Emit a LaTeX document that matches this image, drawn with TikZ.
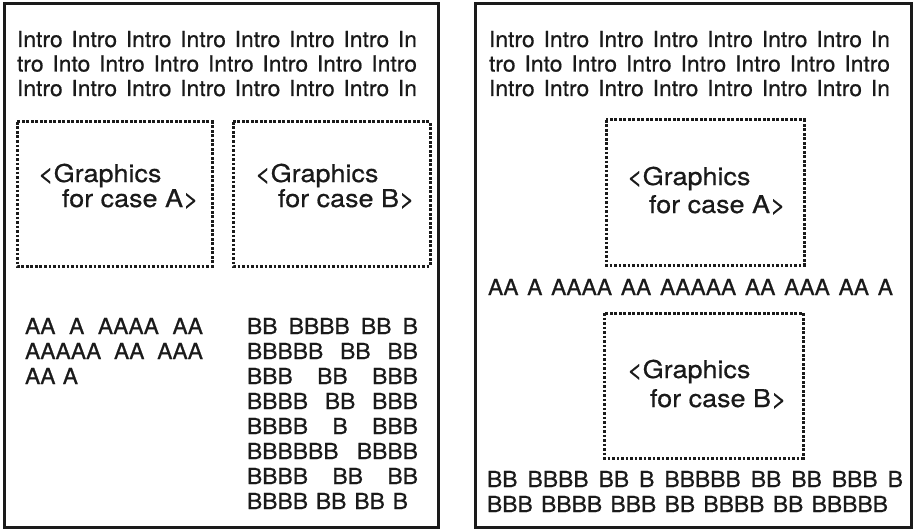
\documentclass[tikz,border=0pt]{standalone}
\usepackage{fontspec}
\setmainfont[FakeStretch=1.04,FakeBold=0.6]{TeX Gyre Heros}
\newfontfamily\glabfont[FakeStretch=1.1,FakeBold=0.6]{TeX Gyre Heros}
\definecolor{ink}{HTML}{1A1A1A}
\newcommand\jline[2]{\makebox[#1pt][s]{#2}}
\begin{document}
\begin{tikzpicture}[x=1pt,y=-1pt,
  frame/.style={draw=ink, line width=3pt},
  gbox/.style={draw=ink, line width=3pt, dash pattern=on 2.6pt off 1.9pt},
  txt/.style={anchor=base west, inner sep=0pt, outer sep=0pt, text=ink, font=\fontsize{22}{25}\selectfont},
  glab/.style={anchor=base west, inner sep=0pt, outer sep=0pt, text=ink, font=\glabfont\fontsize{24.5}{28}\selectfont}]
\useasboundingbox[fill=white] (0,0) rectangle (915,532);
% frames
\draw[frame] (4,4) rectangle (438,527);
\draw[frame] (475,4) rectangle (911,527);
% ---------- left page ----------
\node[txt] (li1) at (17,47) {\jline{400}{Intro Intro Intro Intro Intro Intro Intro In}};
\node[txt] (li2) at (17,71.5) {\jline{400}{tro Into Intro Intro Intro Intro Intro Intro}};
\node[txt] (li3) at (17,96) {\jline{400}{Intro Intro Intro Intro Intro Intro Intro In}};
\draw[gbox] (17,122) rectangle (212,266);
\draw[gbox] (233,122) rectangle (430,266);
\node[glab] (lga1) at (38,182) {<Graphics};
\node[glab] (lga2) at (62,207) {for case A>};
\node[glab] (lgb1) at (255,182) {<Graphics};
\node[glab] (lgb2) at (278,207) {for case B>};
\node[txt] (la1) at (25,334) {\jline{178}{AA A AAAA AA}};
\node[txt] (la2) at (25,359) {\jline{178}{AAAAA AA AAA}};
\node[txt] (la3) at (25,384) {\jline{53}{AA A}};
\node[txt] (lb1) at (247,334) {\jline{171}{BB BBBB BB B}};
\node[txt] (lb2) at (247,359) {\jline{171}{BBBBB BB BB}};
\node[txt] (lb3) at (247,384) {\jline{171}{BBB BB BBB}};
\node[txt] (lb4) at (247,409) {\jline{171}{BBBB BB BBB}};
\node[txt] (lb5) at (247,434) {\jline{171}{BBBB B BBB}};
\node[txt] (lb6) at (247,459) {\jline{171}{BBBBBB BBBB}};
\node[txt] (lb7) at (247,484) {\jline{171}{BBBB BB BB}};
\node[txt] (lb8) at (247,509) {\jline{161}{BBBB BB BB B}};
% ---------- right page ----------
\node[txt] (ri1) at (489,47) {\jline{401}{Intro Intro Intro Intro Intro Intro Intro In}};
\node[txt] (ri2) at (489,71.5) {\jline{401}{tro Into Intro Intro Intro Intro Intro Intro}};
\node[txt] (ri3) at (489,96) {\jline{401}{Intro Intro Intro Intro Intro Intro Intro In}};
\draw[gbox] (606,120) rectangle (804,265);
\node[glab] (rga1) at (627,185) {<Graphics};
\node[glab] (rga2) at (649,213) {for case A>};
\node[txt] (ra1) at (488,295) {\jline{405}{AA A AAAA AA AAAAA AA AAA AA A}};
\draw[gbox] (604,313) rectangle (803,458);
\node[glab] (rgb1) at (627,378) {<Graphics};
\node[glab] (rgb2) at (650,407) {for case B>};
\node[txt] (rb1) at (487,487) {\jline{416}{BB BBBB BB B BBBBB BB BB BBB B}};
\node[txt] (rb2) at (487,512) {\jline{401}{BBB BBBB BBB BB BBBB BB BBBBB}};
\end{tikzpicture}
\end{document}
